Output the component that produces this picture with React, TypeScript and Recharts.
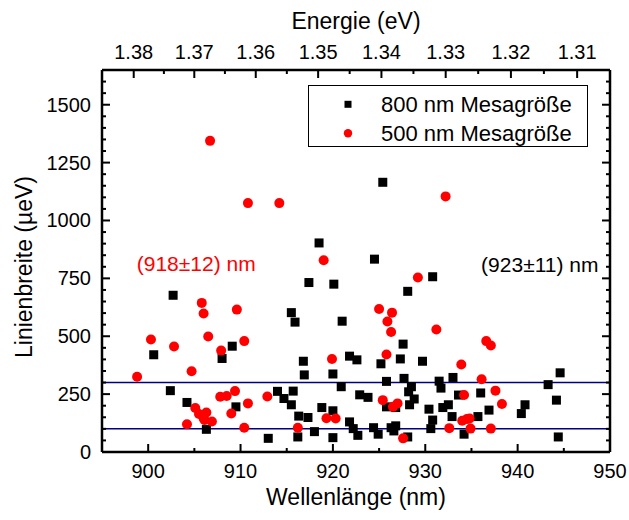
import React from 'react';
import { ScatterChart, Scatter, XAxis, YAxis, ReferenceLine, ReferenceDot, Legend } from 'recharts';

const FONT = '"Liberation Sans", Arial, sans-serif';
const HC = 1239.84; // eV*nm

// 800 nm Mesagröße
const mesa800Wl = [
  900.6, 902.4, 904.2, 908.0, 909.1, 906.3, 909.5, 913.0, 902.7, 917.4,
  920.1, 915.5, 915.9, 921.0, 918.5, 925.4, 924.5, 930.8, 928.1, 927.6,
  921.8, 922.6, 925.2, 927.3, 929.7, 916.8, 916.9, 920.0, 920.9, 925.8,
  927.7, 931.5, 914.0, 914.7, 915.5, 915.7, 916.3, 917.3, 916.2, 918.0,
  918.8, 920.0, 920.0, 922.9, 923.8, 921.8, 922.2, 922.7, 924.4, 924.9,
  925.8, 926.8, 928.2, 928.5, 928.8, 928.3, 930.4, 930.8, 930.6, 926.3,
  926.8, 926.6, 928.1, 933.0, 931.7, 943.3, 944.6, 933.6, 936.0, 944.2,
  940.8, 940.4, 932.5, 931.9, 936.9, 935.7, 932.9, 934.2, 944.4,
];
const mesa800Width = [
  420, 265, 214, 404, 457, 98, 195, 59, 677, 732,
  725, 602, 561, 565, 903, 1165, 833, 757, 694, 466,
  414, 398, 381, 402, 392, 392, 333, 337, 282, 305,
  318, 306, 262, 231, 204, 263, 155, 149, 65, 88,
  192, 178, 62, 247, 236, 130, 101, 72, 105, 77,
  195, 192, 260, 282, 229, 204, 185, 138, 101, 105,
  113, 91, 65, 322, 276, 291, 342, 246, 255, 224,
  204, 166, 204, 192, 181, 153, 153, 77, 65,
];

// 500 nm Mesagröße
const mesa500Wl = [
  900.3, 902.8, 898.8, 906.5, 907.9, 910.4, 904.7, 904.2, 905.1, 905.5,
  906.3, 906.1, 906.9, 906.0, 907.8, 908.5, 909.4, 910.8, 909.0, 910.4,
  912.9, 906.7, 910.8, 914.2, 919.0, 905.8, 906.0, 909.6, 932.2, 929.2,
  925.0, 926.4, 925.9, 926.3, 931.2, 936.6, 937.1, 919.9, 925.8, 916.2,
  919.3, 920.3, 925.4, 926.5, 927.0, 927.6, 933.9, 936.1, 934.2, 937.6,
  938.3, 934.0, 934.5, 934.8, 932.6, 934.9, 937.1,
];
const mesa500Width = [
  486, 456, 325, 499, 438, 479, 349, 120, 190, 164,
  171, 138, 132, 146, 239, 242, 263, 210, 166, 105,
  240, 1344, 1075, 1075, 828, 644, 598, 615, 1104, 754,
  618, 602, 564, 518, 529, 479, 460, 402, 421, 105,
  146, 145, 224, 195, 210, 59, 378, 314, 246, 265,
  207, 135, 142, 145, 103, 101, 101,
];

const xLabelTicks = [900, 910, 920, 930, 940, 950];
const xMinorTicks = [905, 915, 925, 935, 945];
const yLabelTicks = [0, 250, 500, 750, 1000, 1250, 1500];
const energyLabels = [1.38, 1.37, 1.36, 1.35, 1.34, 1.33, 1.32, 1.31];
const energyMinor = [1.375, 1.365, 1.355, 1.345, 1.335, 1.325, 1.315];
const guideLines = [300, 100];

const data800 = mesa800Wl.map((x, i) => ({ x, y: mesa800Width[i] }));
const data500 = mesa500Wl.map((x, i) => ({ x, y: mesa500Width[i] }));

const yTicks: number[] = [];
for (let v = 0; v <= 1650; v += 50) yTicks.push(v);
const topTicks = [...energyLabels, ...energyMinor].map((e) => HC / e);

const MAJOR = 8;
const MINOR = 4;

const BottomTick = (p: any) => {
  const { x, y, payload } = p;
  const major = xLabelTicks.includes(payload.value);
  return (
    <g>
      <line x1={x} x2={x} y1={y} y2={y - (major ? MAJOR : MINOR)} stroke="#000" strokeWidth={2} />
      {major && (
        <text x={x} y={y + 26} textAnchor="middle" fontSize={20} fontFamily={FONT} fill="#000">
          {payload.value}
        </text>
      )}
    </g>
  );
};

const TopTick = (p: any) => {
  const { x, y, payload } = p;
  const e = HC / payload.value;
  const major = energyLabels.some((l) => Math.abs(HC / l - payload.value) < 1e-4);
  return (
    <g>
      <line x1={x} x2={x} y1={y} y2={y + (major ? MAJOR : MINOR)} stroke="#000" strokeWidth={2} />
      {major && (
        <text x={x} y={y - 11} textAnchor="middle" fontSize={20} fontFamily={FONT} fill="#000">
          {e.toFixed(2)}
        </text>
      )}
    </g>
  );
};

const LeftTick = (p: any) => {
  const { x, y, payload } = p;
  const major = yLabelTicks.includes(payload.value);
  return (
    <g>
      <line x1={x} x2={x + (major ? MAJOR : MINOR)} y1={y} y2={y} stroke="#000" strokeWidth={2} />
      {major && (
        <text x={x - 11} y={y + 7} textAnchor="end" fontSize={20} fontFamily={FONT} fill="#000">
          {payload.value}
        </text>
      )}
    </g>
  );
};

const RightTick = (p: any) => {
  const { x, y, payload } = p;
  const major = yLabelTicks.includes(payload.value);
  return <line x1={x} x2={x - (major ? MAJOR : MINOR)} y1={y} y2={y} stroke="#000" strokeWidth={2} />;
};

const Square = (p: any) => <rect x={p.cx - 4.5} y={p.cy - 4.5} width={9} height={9} fill="#000" />;
const RedDot = (p: any) => <circle cx={p.cx} cy={p.cy} r={5} fill="#ff0000" />;
const NoMark = () => <g />;

const LegendBox = () => (
  <svg width={280} height={62} style={{ display: 'block' }}>
    <rect x={0.5} y={0.5} width={279} height={61} fill="#fff" stroke="#000" strokeWidth={1} />
    <rect x={36.5} y={15.8} width={7} height={7} fill="#000" />
    <text x={73} y={27} fontSize={22} fontFamily={FONT} fill="#000">800 nm Mesagröße</text>
    <circle cx={40} cy={48.3} r={4.2} fill="#ff0000" />
    <text x={73} y={56} fontSize={22} fontFamily={FONT} fill="#000">500 nm Mesagröße</text>
  </svg>
);

const axisLine = { stroke: '#000', strokeWidth: 2.5 };

export default function App() {
  return (
    <div style={{ position: 'absolute', left: 0, top: 0, width: 629, height: 520, background: '#fff' }}>
      <ScatterChart width={629} height={520} margin={{ top: 0, right: 0, bottom: 0, left: 0 }}>
        <XAxis
          xAxisId="b"
          type="number"
          dataKey="x"
          orientation="bottom"
          domain={[895, 950]}
          allowDataOverflow
          ticks={[...xLabelTicks, ...xMinorTicks]}
          interval={0}
          height={68}
          tickSize={0}
          tickMargin={0}
          tick={BottomTick}
          axisLine={axisLine}
          tickLine={false}
          label={{
            content: (lp: any) => {
              const vb = lp.viewBox;
              return (
                <text x={vb.x + vb.width / 2} y={505} textAnchor="middle" fontSize={23} fontFamily={FONT} fill="#000">
                  Wellenlänge (nm)
                </text>
              );
            },
          }}
        />
        <XAxis
          xAxisId="t"
          type="number"
          dataKey="x"
          orientation="top"
          domain={[895, 950]}
          allowDataOverflow
          ticks={topTicks}
          interval={0}
          height={70}
          tickSize={0}
          tickMargin={0}
          tick={TopTick}
          axisLine={axisLine}
          tickLine={false}
          label={{
            content: (lp: any) => {
              const vb = lp.viewBox;
              return (
                <text x={vb.x + vb.width / 2} y={29} textAnchor="middle" fontSize={23} fontFamily={FONT} fill="#000">
                  Energie (eV)
                </text>
              );
            },
          }}
        />
        <YAxis
          yAxisId="l"
          type="number"
          dataKey="y"
          domain={[0, 1650]}
          allowDataOverflow
          ticks={yTicks}
          interval={0}
          width={102}
          tickSize={0}
          tickMargin={0}
          tick={LeftTick}
          axisLine={axisLine}
          tickLine={false}
          label={{
            content: (lp: any) => {
              const vb = lp.viewBox;
              const cx = 32;
              const cy = vb.y + vb.height / 2 + 6;
              return (
                <text
                  x={cx}
                  y={cy}
                  transform={`rotate(-90, ${cx}, ${cy})`}
                  textAnchor="middle"
                  fontSize={23}
                  fontFamily={FONT}
                  fill="#000"
                >
                  Linienbreite (µeV)
                </text>
              );
            },
          }}
        />
        <YAxis
          yAxisId="r"
          type="number"
          dataKey="y"
          orientation="right"
          domain={[0, 1650]}
          allowDataOverflow
          ticks={yTicks}
          interval={0}
          width={19}
          tickSize={0}
          tickMargin={0}
          tick={RightTick}
          axisLine={axisLine}
          tickLine={false}
        />
        {guideLines.map((v) => (
          <ReferenceLine key={v} xAxisId="b" yAxisId="l" y={v} stroke="#000080" strokeWidth={1.5} />
        ))}
        {/* invisible copy so the top and right axes get a scale and draw their ticks */}
        <Scatter
          data={data800}
          xAxisId="t"
          yAxisId="r"
          shape={NoMark}
          legendType="none"
          isAnimationActive={false}
        />
        <Scatter
          name="800 nm Mesagröße"
          data={data800}
          xAxisId="b"
          yAxisId="l"
          shape={Square}
          isAnimationActive={false}
        />
        <Scatter
          name="500 nm Mesagröße"
          data={data500}
          xAxisId="b"
          yAxisId="l"
          shape={RedDot}
          isAnimationActive={false}
        />
        <ReferenceDot
          xAxisId="b"
          yAxisId="l"
          x={905.2}
          y={813}
          r={1}
          fill="none"
          stroke="none"
          label={{ value: '(918±12) nm', position: 'center', fontSize: 21, fontFamily: FONT, fill: '#ff0000' }}
        />
        <ReferenceDot
          xAxisId="b"
          yAxisId="l"
          x={942.4}
          y={810}
          r={1}
          fill="none"
          stroke="none"
          label={{ value: '(923±11) nm', position: 'center', fontSize: 21, fontFamily: FONT, fill: '#000' }}
        />
        <Legend
          layout="vertical"
          align="center"
          verticalAlign="middle"
          content={() => <LegendBox />}
          wrapperStyle={{ position: 'absolute', left: 308, top: 85, width: 280, height: 62 }}
        />
      </ScatterChart>
    </div>
  );
}
